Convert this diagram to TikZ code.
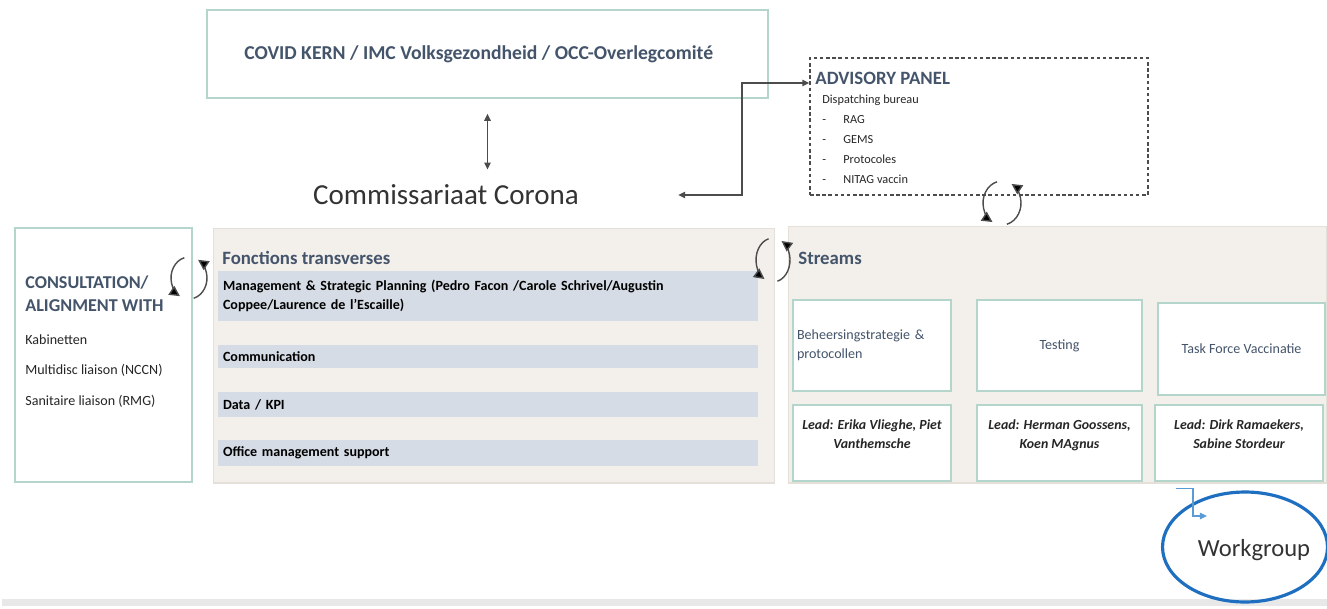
\documentclass[tikz,border=0pt]{standalone}
\usepackage{fontspec}
\setmainfont{Carlito}
\usetikzlibrary{positioning, calc, arrows.meta, shapes.geometric}

\definecolor{titleblue}{HTML}{44546A}
\definecolor{boxline}{HTML}{B4D5CB}
\definecolor{panelfill}{HTML}{F3F0EC}
\definecolor{panelline}{HTML}{E4DFD9}
\definecolor{rowfill}{HTML}{D6DCE5}
\definecolor{wgblue}{HTML}{1F6FC0}
\definecolor{wgarrow}{HTML}{5B9BD5}

\begin{document}
\begin{tikzpicture}[x=0.02cm, y=0.02cm, >={Triangle[length=4pt,width=3.6pt]},
	box/.style={draw=boxline, line width=0.9pt, fill=white, inner sep=0pt},
	panel/.style={draw=panelline, line width=0.6pt, fill=panelfill, inner sep=0pt},
	row/.style={fill=rowfill, minimum width=10.8cm, text width=10.6cm, inner xsep=0.1cm, inner ysep=0pt, align=left, font=\fontsize{8}{11}\selectfont\bfseries},
	heading/.style={inner sep=0pt, text=titleblue, font=\fontsize{10.7}{12}\selectfont\bfseries},
	small/.style={inner sep=0pt, text=black!85, font=\fontsize{7}{9}\selectfont},
	stream/.style={inner sep=0pt, text=titleblue, font=\fontsize{8}{11}\selectfont},
	lead/.style={inner sep=0pt, align=center, text=black!85, font=\fontsize{7.9}{11}\selectfont\bfseries\itshape},
	conn/.style={draw=black!70, line width=1pt},
	cyc/.style={draw=black!70, line width=0.8pt, -{Triangle[length=6pt,width=6pt,fill=black]}},
	]
	
	\useasboundingbox (0,0) rectangle (1327,-608);
	
	% top level
	\node[box, heading, font=\fontsize{11.2}{13}\selectfont\bfseries, minimum width=11.22cm, minimum height=1.76cm] (kern) at (487.5,-54) {COVID KERN / IMC Volksgezondheid / OCC-Overlegcomité\hspace*{0.35cm}};
	\node[inner sep=0pt, text=black!80, font=\fontsize{16.5}{20}\selectfont] (corona) at (446,-195) {Commissariaat Corona};
	\draw[conn, <->, shorten <=0.3cm, shorten >=0.3cm] (kern.south) -- (kern.south |- corona.north);
	
	% advisory panel
	\node[draw=black!70, dashed, dash pattern=on 2pt off 1.5pt, line width=0.8pt, minimum width=6.76cm, minimum height=2.74cm, inner sep=0pt] (adv) at (979,-126.5) {};
	\node[heading, anchor=west] (advtitle) at (815,-78) {ADVISORY PANEL};
	\node[small, anchor=base west] (dispatch) at (822,-103) {Dispatching bureau};
	\node[small, anchor=base west] (dash1) at (822,-123) {-};
	\node[small, anchor=base west] (rag) at (843,-123) {RAG};
	\node[small, anchor=base west] (dash2) at (822,-143) {-};
	\node[small, anchor=base west] (gems) at (843,-143) {GEMS};
	\node[small, anchor=base west] (dash3) at (822,-163) {-};
	\node[small, anchor=base west] (proto) at (843,-163) {Protocoles};
	\node[small, anchor=base west] (dash4) at (822,-183) {-};
	\node[small, anchor=base west] (nitag) at (843,-183) {NITAG vaccin};
	
	\coordinate (knee) at (742,-83);
	\draw[conn, <->, shorten <=1.98cm] (corona.east) -| (knee) -- (adv.west |- knee);
	
	% consultation
	\node[box, minimum width=3.54cm, minimum height=5.08cm] (consult) at (103.5,-355) {};
	\node[heading, anchor=west, align=left, font=\fontsize{10.3}{13}\selectfont\bfseries] (consulttitle) at (25,-293.5) {CONSULTATION/\\ALIGNMENT WITH};
	\node[small, anchor=west, font=\fontsize{8}{9}\selectfont] (kab) at (25,-340) {Kabinetten};
	\node[small, anchor=west, font=\fontsize{8}{9}\selectfont] (nccn) at (25,-370) {Multidisc liaison (NCCN)};
	\node[small, anchor=west, font=\fontsize{8}{9}\selectfont] (rmg) at (25,-401) {Sanitaire liaison (RMG)};
	
	% fonctions transverses
	\node[panel, minimum width=11.24cm, minimum height=5.1cm] (fonctions) at (494,-355.5) {};
	\node[heading, anchor=west] (fonctitle) at (222,-258) {Fonctions transverses};
	\node[row, minimum height=1cm] (mgmt) at (488,-296) {Management \& Strategic Planning (Pedro Facon /Carole Schrivel/Augustin\\Coppee/Laurence de l'Escaille)};
	\node[row, minimum height=0.46cm] (comm) at (488,-356.5) {Communication};
	\node[row, minimum height=0.5cm] (data) at (488,-404.5) {Data / KPI};
	\node[row, minimum height=0.52cm] (office) at (488,-453) {Office management support};
	
	% streams
	\node[panel, minimum width=10.78cm, minimum height=5.14cm] (streams) at (1057.5,-354.5) {};
	\node[heading, anchor=west] (streamtitle) at (798,-258) {Streams};
	
	\node[box, stream, minimum width=3.16cm, minimum height=1.82cm, text width=3.0cm, align=left] (s1) at (872,-345.5) {Beheersingstrategie \&\\protocollen};
	\node[box, stream, minimum width=3.3cm, minimum height=1.82cm] (s2) at (1059.5,-345.5) {Testing};
	\node[box, stream, minimum width=3.34cm, minimum height=1.84cm] (s3) at (1241.5,-349) {Task Force Vaccinatie};
	
	\node[box, minimum width=3.16cm, minimum height=1.52cm] (l1) at (872,-443) {};
	\node[lead, below=0.3cm of l1.north] (l1txt) {Lead: Erika Vlieghe, Piet\\Vanthemsche};
	\node[box, minimum width=3.3cm, minimum height=1.52cm] (l2) at (1059.5,-443) {};
	\node[lead, below=0.3cm of l2.north] (l2txt) {Lead: Herman Goossens,\\Koen MAgnus};
	\node[box, minimum width=3.36cm, minimum height=1.52cm] (l3) at (1239,-443) {};
	\node[lead, below=0.3cm of l3.north] (l3txt) {Lead: Dirk Ramaekers,\\Sabine Stordeur};
	
	% workgroup
	\fill[black!9] (2,-599) rectangle (1327,-606);
	\node[draw=wgblue, line width=1.8pt, ellipse, minimum width=3.3cm, minimum height=2.2cm, inner sep=0pt] (wg) at (1245,-547) {};
	\node[inner sep=0pt, text=black!80, font=\fontsize{14}{16}\selectfont] (wgtxt) at (1254,-550) {Workgroup};
	\coordinate (wgin) at (1207,-516);
	\draw[draw=wgarrow, line width=0.8pt, ->] ([xshift=-1.26cm, yshift=-0.14cm]l3.south) -- ++(0.34cm,0) |- (wgin);
	
	% cycle arrows
	\coordinate (cyc1) at (189,-278);
	\coordinate (cyc2) at (773,-260);
	\coordinate (cyc3) at (1002,-203);
	\draw[cyc] ($(cyc1)+(105:0.36cm and 0.42cm)$) arc[start angle=105, end angle=240, x radius=0.36cm, y radius=0.42cm];
	\draw[cyc] ($(cyc1)+(285:0.36cm and 0.42cm)$) arc[start angle=285, end angle=420, x radius=0.36cm, y radius=0.42cm];
	\draw[cyc] ($(cyc2)+(105:0.34cm and 0.44cm)$) arc[start angle=105, end angle=240, x radius=0.34cm, y radius=0.44cm];
	\draw[cyc] ($(cyc2)+(285:0.34cm and 0.44cm)$) arc[start angle=285, end angle=420, x radius=0.34cm, y radius=0.44cm];
	\draw[cyc] ($(cyc3)+(105:0.38cm and 0.44cm)$) arc[start angle=105, end angle=240, x radius=0.38cm, y radius=0.44cm];
	\draw[cyc] ($(cyc3)+(285:0.38cm and 0.44cm)$) arc[start angle=285, end angle=420, x radius=0.38cm, y radius=0.44cm];
	
\end{tikzpicture}
\end{document}
